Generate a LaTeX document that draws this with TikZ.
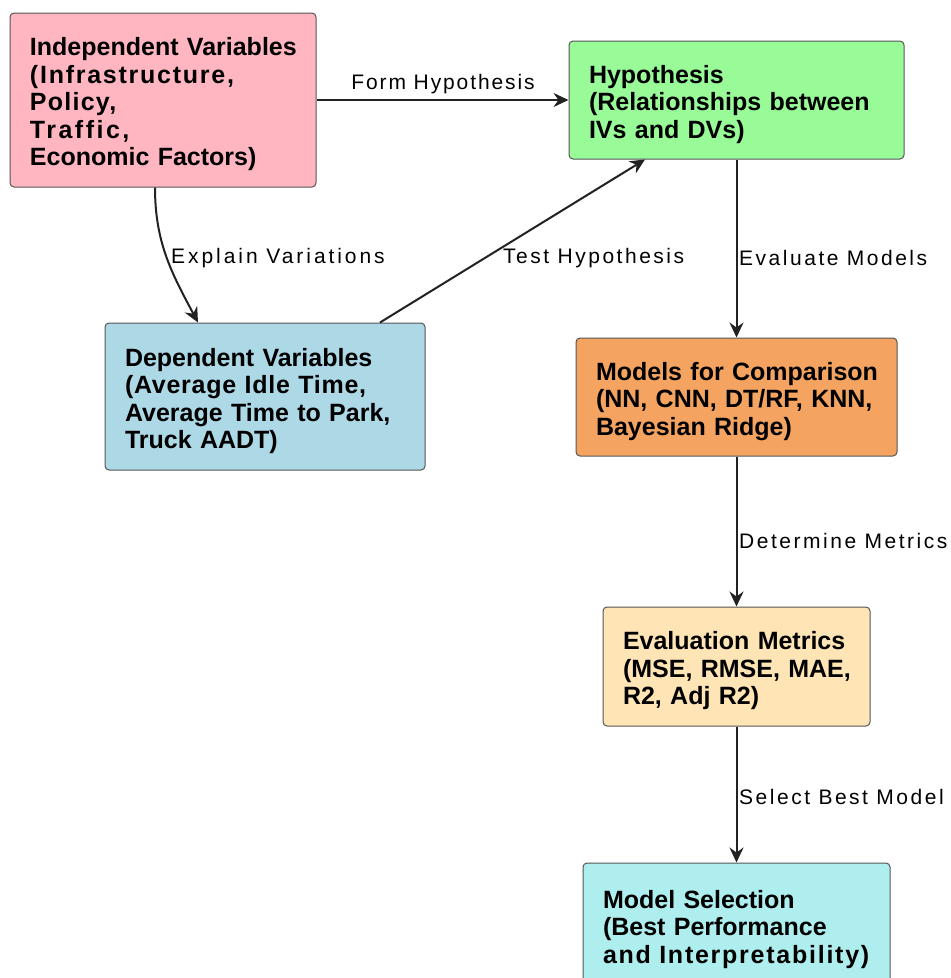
\documentclass[tikz,border=0pt]{standalone}
\usepackage{fontspec}
\setmainfont{Liberation Sans}
\usetikzlibrary{arrows.meta,calc}
\definecolor{ivpink}{HTML}{FFB6C1}
\definecolor{hypgreen}{HTML}{98FB98}
\definecolor{dvblue}{HTML}{ADD8E6}
\definecolor{modorange}{HTML}{F4A460}
\definecolor{evalbeige}{HTML}{FFE4B5}
\definecolor{selcyan}{HTML}{AFEEEE}
\definecolor{edgegray}{HTML}{222222}
\definecolor{bordergray}{HTML}{555555}
\newcommand{\spc}[2]{\mbox{\addfontfeature{LetterSpace=#1}#2}}
\newcommand{\oneline}[1]{\mbox{#1}}
\newcommand{\firstline}[1]{\mbox{\rule{0pt}{27pt}#1}}
\tikzset{
  box/.style={draw=bordergray, line width=1pt, rounded corners=4pt,
    font=\bfseries\fontsize{25}{27.5}\selectfont, align=left,
    inner xsep=20pt, inner ysep=0pt, anchor=center},
  flow/.style={draw=edgegray, line width=2pt,
    -{Stealth[length=15pt,width=14pt,inset=5pt]}},
  lbl/.style={font=\fontsize{21}{24}\selectfont\addfontfeature{LetterSpace=12}, inner sep=0pt}
}
\begin{document}
\begin{tikzpicture}[x=1pt,y=-1pt]
\useasboundingbox (0,0) rectangle (951,978);
\clip (0,0) rectangle (951,978);
% boxes
\node[box, fill=ivpink, text width=266pt, minimum height=174pt] (iv) at (163,100)
  {\firstline{Independent Variables}\\ \spc{7}{(Infrastructure,}\\ \spc{5}{Policy,}\\ \spc{10}{Traffic,}\\ \oneline{Economic Factors)}};
\node[box, fill=hypgreen, text width=295pt, minimum height=118pt] (hyp) at (736.5,100)
  {\firstline{Hypothesis}\\ \oneline{(Relationships between}\\ \oneline{IVs and DVs)}};
\node[box, fill=dvblue, text width=280pt, minimum height=147pt] (dv) at (265,396.5)
  {\firstline{Dependent Variables}\\ \spc{3}{(Average Idle Time,}\\ \oneline{Average Time to Park,}\\ \oneline{Truck AADT)}};
\node[box, fill=modorange, text width=281pt, minimum height=118pt] (mod) at (736.5,397)
  {\firstline{Models for Comparison}\\ \oneline{(NN, CNN, DT/RF, KNN,}\\ \oneline{Bayesian Ridge)}};
\node[box, fill=evalbeige, text width=227pt, minimum height=119pt] (eval) at (736.5,666.5)
  {\firstline{Evaluation Metrics}\\ \oneline{(MSE, RMSE, MAE,}\\ \oneline{R2, Adj R2)}};
\node[box, fill=selcyan, text width=267pt, minimum height=124pt] (sel) at (736.5,925)
  {\firstline{Model Selection}\\ \oneline{(Best Performance}\\ \spc{7}{and Interpretability)}};
% connectors
\draw[flow] (iv.east) -- (hyp.west);
\draw[flow] ([xshift=-8pt]iv.south) to[out=-90,in=118] ([xshift=-67pt]dv.north);
\draw[flow] ([xshift=115pt]dv.north) -- ([xshift=-91.5pt]hyp.south);
\draw[flow] (hyp.south) -- (mod.north);
\draw[flow] (mod.south) -- (eval.north);
\draw[flow] (eval.south) -- (sel.north);
% labels
\node[lbl, font=\fontsize{21}{24}\selectfont\addfontfeature{LetterSpace=9}] (l1) at (443,84) {Form Hypothesis};
\node[lbl, anchor=west, font=\fontsize{21}{24}\selectfont\addfontfeature{LetterSpace=14}] (l2) at (171,258) {Explain Variations};
\node[lbl, anchor=west] (l3) at (503,258) {Test Hypothesis};
\node[lbl, anchor=west] (l4) at (739,258) {Evaluate Models};
\node[lbl, anchor=west] (l5) at (739,541) {Determine Metrics};
\node[lbl, anchor=west] (l6) at (739,797) {Select Best Model};
\end{tikzpicture}
\end{document}
